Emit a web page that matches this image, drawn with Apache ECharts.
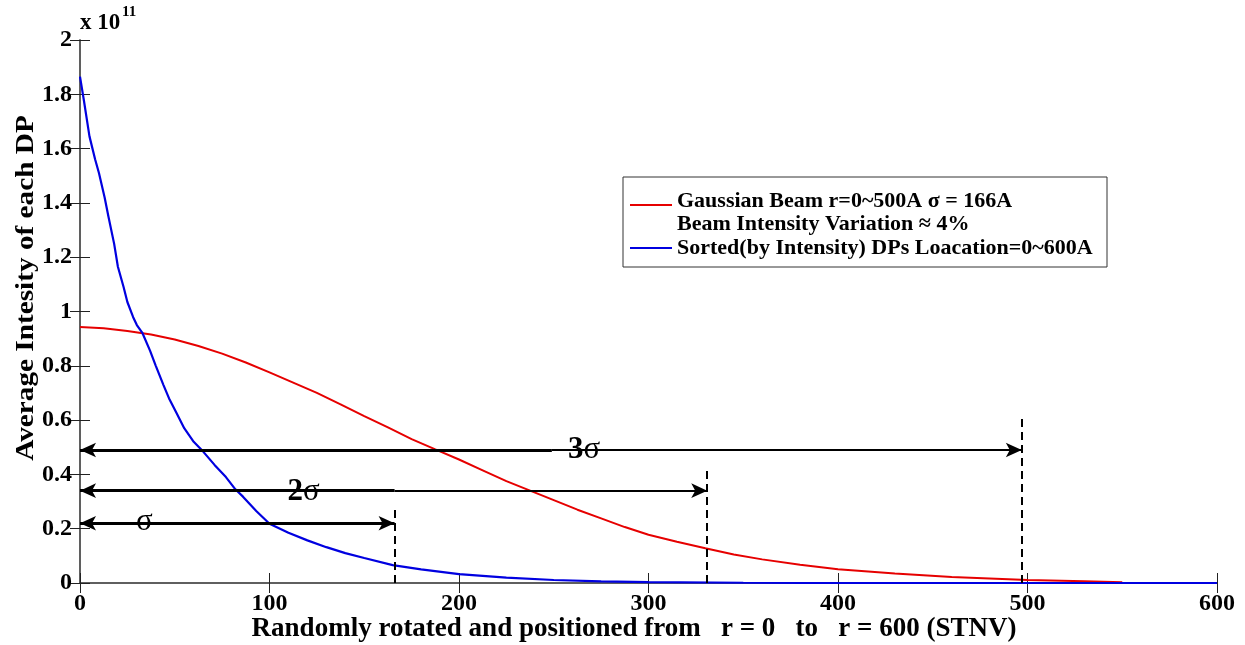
<!DOCTYPE html>
<html>
<head>
<meta charset="utf-8">
<script src="https://cdn.jsdelivr.net/npm/echarts@6/dist/echarts.min.js"></script>
<style>html,body{margin:0;padding:0;background:#fff;}#c{width:1245px;height:645px;}</style>
</head>
<body>
<div id="c"></div>
<script>
// Gaussian beam (red), values in units of 1e11
const redX = [0, 12.5, 25, 37.5, 50, 62.5, 75, 87.5, 100, 112.5, 125, 137.5, 150, 162.5, 175, 187.5, 200, 212.5, 225, 237.5, 250, 262.5, 275, 287.5, 300, 315, 330, 345, 360, 380, 400, 430, 460, 500, 530, 550];
const redY = [0.943, 0.938, 0.928, 0.915, 0.897, 0.873, 0.845, 0.812, 0.776, 0.738, 0.70, 0.658, 0.615, 0.573, 0.53, 0.492, 0.455, 0.415, 0.375, 0.34, 0.305, 0.27, 0.238, 0.206, 0.178, 0.152, 0.128, 0.105, 0.087, 0.067, 0.051, 0.035, 0.022, 0.011, 0.006, 0.003];
// Sorted DPs (blue)
const blueX = [0, 2, 5, 8, 10, 13, 15, 18, 20, 23, 25, 28, 30, 33, 37, 40, 44, 47, 51, 55, 60, 65, 71, 77, 82, 86, 93, 100, 110, 120, 130, 140, 150, 165, 180, 200, 225, 250, 275, 300, 350, 400, 600];
const blueY = [1.865, 1.78, 1.645, 1.56, 1.51, 1.42, 1.35, 1.25, 1.165, 1.09, 1.035, 0.98, 0.95, 0.92, 0.855, 0.80, 0.73, 0.68, 0.625, 0.57, 0.52, 0.484, 0.435, 0.39, 0.345, 0.318, 0.265, 0.218, 0.185, 0.157, 0.132, 0.11, 0.092, 0.066, 0.05, 0.033, 0.02, 0.011, 0.006, 0.003, 0.001, 0.0, 0.0];
// sigma markers
const sigmaR = [166, 331, 497];          // arrow right ends / dashed line positions
const arrowY = [0.22, 0.34, 0.49];       // arrow heights
const dashTop = [0.287, 0.416, 0.62];    // dashed line tops
const splitX = [166, 166, 249];          // where arrows change thickness
const sigmaLabelText = ['σ', '2σ', '3σ'];
const sigmaLabelX = [34, 118, 266];
const sigmaLabelY = [0.225, 0.335, 0.49];
const legendTexts = ['Gaussian Beam r=0~500A σ = 166A', 'Beam Intensity Variation ≈ 4%', 'Sorted(by Intensity) DPs Loacation=0~600A'];
const xTitle = 'Randomly rotated and positioned from   r = 0   to   r = 600 (STNV)';
const yTitle = 'Average Intesity of each DP';

const FONT = '"Liberation Serif", "Times New Roman", serif';
const chart = echarts.init(document.getElementById('c'), null, {renderer: 'canvas'});

const red = redX.map((x, i) => [x, redY[i]]);
const blue = blueX.map((x, i) => [x, blueY[i]]);

const mlData = [];
for (let i = 0; i < 3; i++) {
  const y = arrowY[i];
  if (splitX[i] >= sigmaR[i]) {
    mlData.push([{coord: [0, y], symbol: 'arrow', lineStyle: {width: 3, color: '#000', type: 'solid'}}, {coord: [sigmaR[i], y], symbol: 'arrow'}]);
  } else {
    mlData.push([{coord: [0, y], symbol: 'arrow', lineStyle: {width: 3, color: '#000', type: 'solid'}}, {coord: [splitX[i], y], symbol: 'none'}]);
    mlData.push([{coord: [splitX[i], y], symbol: 'none', lineStyle: {width: 2, color: '#000', type: 'solid'}}, {coord: [sigmaR[i], y], symbol: 'arrow'}]);
  }
  mlData.push([{coord: [sigmaR[i], 0], symbol: 'none', lineStyle: {width: 2, color: '#000', type: [8, 5]}}, {coord: [sigmaR[i], dashTop[i]], symbol: 'none'}]);
}

const labelData = sigmaLabelText.map((t, i) => ({value: [sigmaLabelX[i], sigmaLabelY[i]], name: t}));

const axisCommon = {
  axisLine: {show: true, lineStyle: {color: '#555', width: 1.5}},
  axisTick: {show: true, inside: true, length: 10, lineStyle: {color: '#222', width: 1}},
  splitLine: {show: false}
};

const option = {
  animation: false,
  backgroundColor: '#fff',
  grid: {left: 80, right: 28, top: 40, bottom: 62, containLabel: false},
  xAxis: [
    Object.assign({type: 'value', min: 0, max: 600, interval: 100, position: 'bottom',
      axisLabel: {color: '#000', fontFamily: FONT, fontWeight: 'bold', fontSize: 24, margin: 9}}, axisCommon),
    Object.assign({type: 'value', min: 0, max: 600, interval: 100, position: 'top', axisLabel: {show: false}}, axisCommon)
  ],
  yAxis: [
    Object.assign({type: 'value', min: 0, max: 2, interval: 0.2, position: 'left',
      axisLabel: {color: '#000', fontFamily: FONT, fontWeight: 'bold', fontSize: 24, margin: 8,
        formatter: v => String(+v.toFixed(1))}}, axisCommon),
    Object.assign({type: 'value', min: 0, max: 2, interval: 0.2, position: 'right', axisLabel: {show: false}}, axisCommon)
  ],
  series: [
    {type: 'line', name: 'red', data: red, showSymbol: false, lineStyle: {color: '#e60000', width: 2}, z: 3, silent: true},
    {type: 'line', name: 'blue', data: blue, showSymbol: false, lineStyle: {color: '#0000e0', width: 2.2}, z: 4, silent: true},
    {type: 'line', name: 'marks', data: [[0, 0]], showSymbol: false, lineStyle: {opacity: 0}, silent: true, z: 5,
      markLine: {silent: true, animation: false, symbolSize: [11, 16], label: {show: false},
        lineStyle: {color: '#000'}, emphasis: {disabled: true}, data: mlData}},
    {type: 'scatter', name: 'labels', data: labelData, symbolSize: 0, silent: true, z: 6,
      itemStyle: {opacity: 1, color: '#000'},
      label: {show: true, position: 'inside', color: '#000', opacity: 1, textBorderWidth: 0, formatter: p => {
        const t = p.name;
        return t.length > 1 ? '{d|' + t[0] + '}{s|' + t.slice(1) + '}' : '{s|' + t + '}';
      }, rich: {
        d: {fontFamily: FONT, fontWeight: 'bold', fontSize: 31, color: '#000', textBorderWidth: 0},
        s: {fontFamily: FONT, fontWeight: 'normal', fontSize: 31, color: '#000', textBorderWidth: 0}
      }}}
  ],
  graphic: [
    {type: 'text', left: 80, top: 12, style: {text: 'x 10', font: 'bold 23px ' + FONT, fill: '#000'}},
    {type: 'text', left: 122, top: 5, style: {text: '11', font: 'bold 15px ' + FONT, fill: '#000'}},
    {type: 'text', x: 634, y: 629, style: {text: xTitle, font: 'bold 27px ' + FONT, fill: '#000', align: 'center', verticalAlign: 'middle'}},
    {type: 'text', x: 27, y: 288, rotation: Math.PI / 2, scaleX: 1.17, style: {text: yTitle, font: 'bold 25px ' + FONT, fill: '#000', align: 'center', verticalAlign: 'middle'}},
    {type: 'rect', shape: {x: 623, y: 177, width: 484, height: 90}, style: {fill: '#fff', stroke: '#333', lineWidth: 1}, z: 10},
    {type: 'line', shape: {x1: 630, y1: 205, x2: 672, y2: 205}, style: {stroke: '#e60000', lineWidth: 2}, z: 11},
    {type: 'line', shape: {x1: 630, y1: 248, x2: 672, y2: 248}, style: {stroke: '#0000e0', lineWidth: 2}, z: 11},
    {type: 'text', x: 677, y: 201, style: {text: legendTexts[0], font: 'bold 22px ' + FONT, fill: '#000', verticalAlign: 'middle'}, z: 11},
    {type: 'text', x: 677, y: 224, style: {text: legendTexts[1], font: 'bold 22px ' + FONT, fill: '#000', verticalAlign: 'middle'}, z: 11},
    {type: 'text', x: 677, y: 248, style: {text: legendTexts[2], font: 'bold 22px ' + FONT, fill: '#000', verticalAlign: 'middle'}, z: 11}
  ]
};
chart.setOption(option);
</script>
</body>
</html>
